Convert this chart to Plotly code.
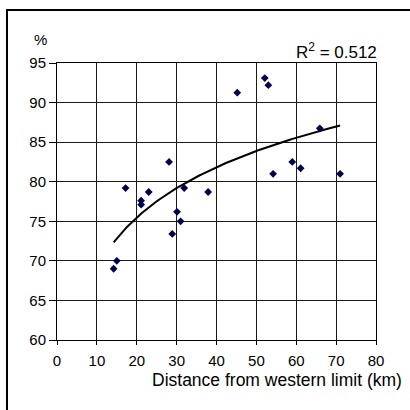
import numpy as np
import plotly.graph_objects as go

# Data
distance_km = [14.2, 15.0, 17.2, 21.1, 21.1, 23.0, 28.1, 28.9, 30.1, 31.0,
               31.9, 37.9, 45.2, 52.1, 53.0, 54.2, 59.0, 61.1, 65.9, 71.0]
percent = [69.0, 70.0, 79.2, 77.6, 77.1, 78.7, 82.5, 73.4, 76.2, 75.0,
           79.2, 78.7, 91.25, 93.1, 92.2, 81.0, 82.5, 81.7, 86.75, 81.0]
x_ticks = [0, 10, 20, 30, 40, 50, 60, 70, 80]
y_ticks = [60, 65, 70, 75, 80, 85, 90, 95]
r2_label = "R<sup>2</sup> = 0.512"

# Logarithmic trendline fitted to the data (as in a spreadsheet trendline)
xa = np.array(distance_km)
ya = np.array(percent)
a, b = np.polyfit(np.log(xa), ya, 1)
xt = np.linspace(xa.min(), xa.max(), 120)
yt = a * np.log(xt) + b

FONT = "Liberation Sans, Arial, sans-serif"

fig = go.Figure()
fig.add_trace(go.Scatter(x=xt, y=yt, mode="lines",
                         line=dict(color="black", width=2), hoverinfo="skip"))
fig.add_trace(go.Scatter(x=distance_km, y=percent, mode="markers",
                         marker=dict(symbol="diamond", size=6, color="#00004d",
                                     line=dict(width=0))))

L, R, T, B = 57, 34, 63, 70
W = H = 410
pw, ph = W - L - R, H - T - B

def px(xp):
    return (xp - L) / pw

def py(yp):
    return (H - B - yp) / ph

fig.update_layout(
    width=W, height=H, margin=dict(l=L, r=R, t=T, b=B),
    paper_bgcolor="white", plot_bgcolor="white", showlegend=False,
    font=dict(family=FONT, color="black"),
    xaxis=dict(range=[0, 80], tickvals=x_ticks, showgrid=True, gridcolor="#1a1a1a",
               gridwidth=1, showline=True, linecolor="black", linewidth=1, mirror=True,
               ticks="outside", ticklen=4, tickcolor="black", tickfont=dict(size=15),
               ticklabelstandoff=3, zeroline=False),
    yaxis=dict(range=[60, 95], tickvals=y_ticks, showgrid=True, gridcolor="#1a1a1a",
               gridwidth=1, showline=True, linecolor="black", linewidth=1, mirror=True,
               ticks="outside", ticklen=7, tickcolor="black", tickfont=dict(size=15),
               zeroline=False),
    shapes=[dict(type="rect", xref="paper", yref="paper",
                 x0=px(7), x1=px(415), y0=py(415), y1=py(10),
                 line=dict(color="black", width=2), fillcolor="rgba(0,0,0,0)")],
    annotations=[
        dict(text="%", xref="paper", yref="paper", x=px(40.5), y=py(40),
             xanchor="center", yanchor="middle", showarrow=False, font=dict(size=15)),
        dict(text=r2_label, xref="paper", yref="paper", x=px(379), y=py(51),
             xanchor="right", yanchor="middle", showarrow=False, font=dict(size=17)),
        dict(text="Distance from western limit (km)", xref="paper", yref="paper",
             x=px(404), y=py(380), xanchor="right", yanchor="middle",
             showarrow=False, font=dict(size=17.5)),
    ],
)

fig.write_html("out.html")
